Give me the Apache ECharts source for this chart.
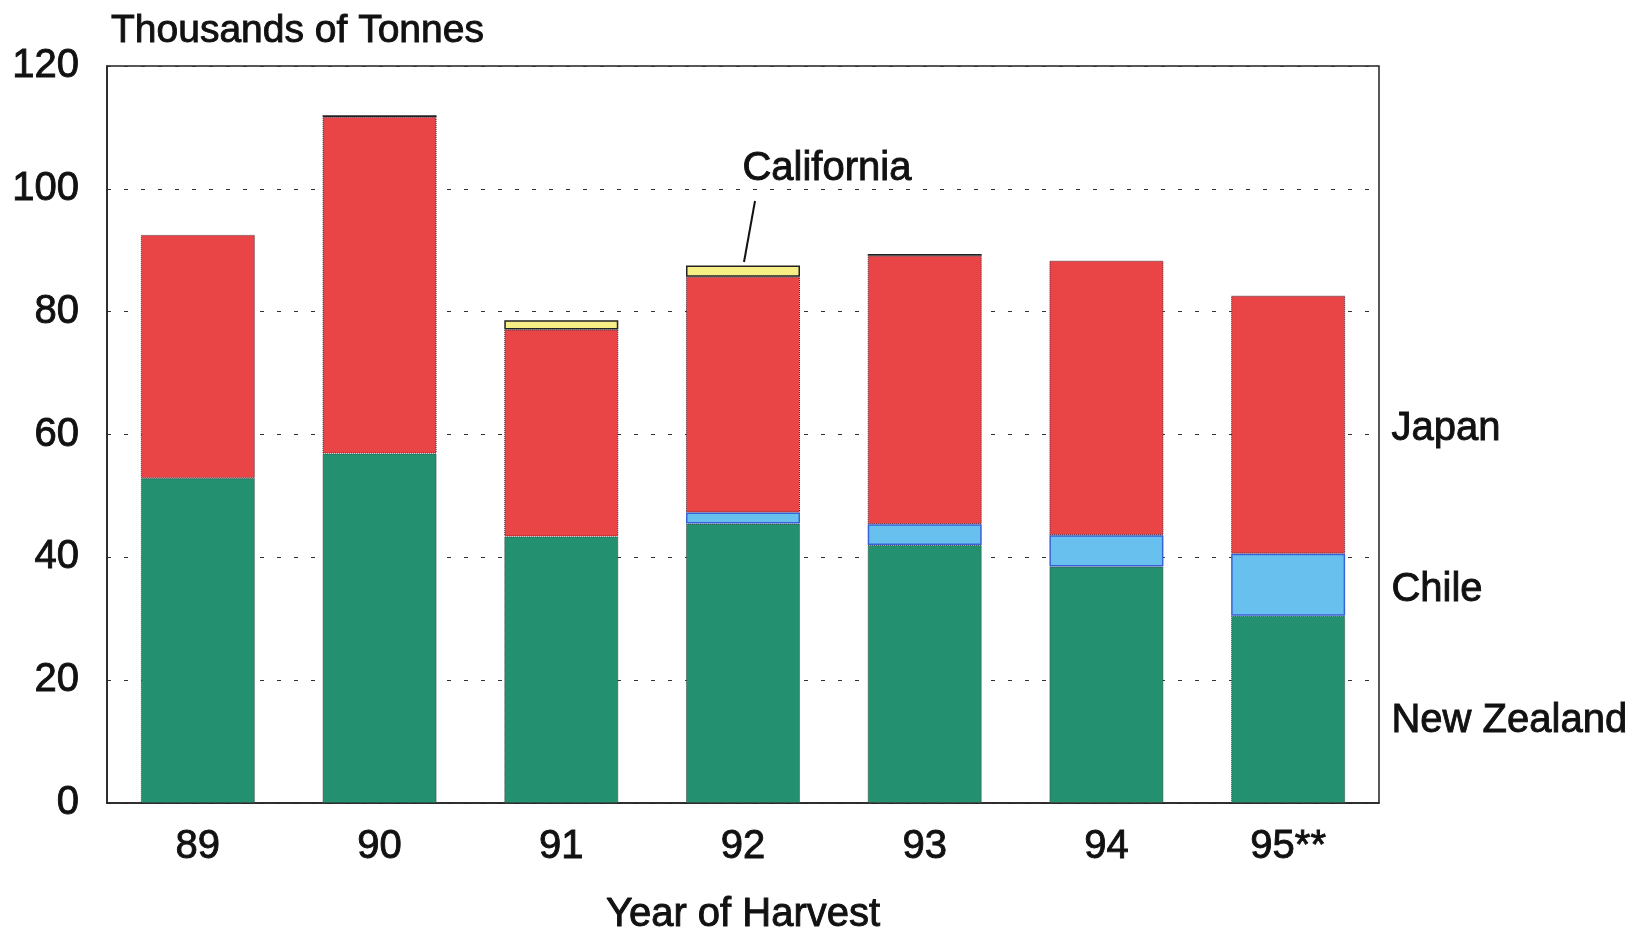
<!DOCTYPE html>
<html>
<head>
<meta charset="utf-8">
<style>
  html, body { margin: 0; padding: 0; background: #fff; }
  #chart { width: 1632px; height: 935px; }
</style>
<script src="https://cdn.jsdelivr.net/npm/echarts@6/dist/echarts.min.js"></script>
</head>
<body>
<div id="chart"></div>
<script>
// Harvest years and stacked production (thousands of tonnes)
const years = ['89', '90', '91', '92', '93', '94', '95**'];
const newZealand = [52.9, 56.9, 43.4, 45.5, 42.0, 38.5, 30.5];
const chile      = [null, null, null, 1.8, 3.4, 5.1, 10.1];
const japan      = [39.6, 54.8, 33.7, 38.4, 43.7, 44.7, 42.0];
const california = [null, 0.3, 1.5, 1.8, 0.3, null, null];
const yTicks = { min: 0, max: 120, step: 20 };

const FONT = '"Liberation Sans", Arial, Helvetica, sans-serif';
const INK = '#111';
// shared text look: a thin same-colour outline gives the heavier print weight
const textLook = { fontFamily: FONT, fontSize: 40, color: INK, textBorderColor: INK, textBorderWidth: 0.9 };

const chart = echarts.init(document.getElementById('chart'), null, { renderer: 'canvas' });

function stackSeries(name, data, fill, border, borderType, borderWidth) {
  return {
    name: name,
    type: 'bar',
    stack: 'total',
    barWidth: 114,
    data: data,
    itemStyle: {
      color: fill,
      borderColor: border,
      borderWidth: borderWidth,
      borderType: borderType
    },
    emphasis: { disabled: true }
  };
}

function sideLabel(text, left, top) {
  return {
    type: 'text', left: left, top: top,
    style: { text: text, font: '40px ' + FONT, fill: INK, stroke: INK, lineWidth: 0.9 }
  };
}

chart.setOption({
  animation: false,
  backgroundColor: '#ffffff',
  title: {
    text: 'Thousands of Tonnes',
    left: 106,
    top: 7,
    textStyle: Object.assign({}, textLook, { fontWeight: 'normal', fontSize: 39 })
  },
  grid: {
    left: 107, right: 253, top: 66, bottom: 132,
    outerBoundsMode: 'none',
    containLabel: false,
    show: true, borderColor: '#222', borderWidth: 1.5, backgroundColor: 'transparent'
  },
  xAxis: {
    type: 'category',
    data: years,
    axisLine: { show: true, lineStyle: { color: '#222', width: 1.5 } },
    axisTick: { show: false },
    axisLabel: Object.assign({}, textLook, { margin: 24 }),
    name: 'Year of Harvest',
    nameLocation: 'middle',
    nameGap: 92,
    nameTextStyle: textLook
  },
  yAxis: {
    type: 'value',
    min: yTicks.min,
    max: yTicks.max,
    interval: yTicks.step,
    axisLine: { show: true, lineStyle: { color: '#222', width: 1.5 } },
    axisTick: { show: false },
    axisLabel: Object.assign({}, textLook, { margin: 28 }),
    splitLine: { show: true, lineStyle: { color: '#333', width: 1.2, type: [4, 13] } }
  },
  series: [
    stackSeries('New Zealand', newZealand, '#23906f', '#3a4a40', 'dotted', 1),
    stackSeries('Chile', chile, '#68c0ee', '#3a62d8', 'solid', 1.5),
    stackSeries('Japan', japan, '#e94546', '#4a2a3a', 'dotted', 1),
    stackSeries('California', california, '#f7ef86', '#222', 'solid', 1.5)
  ],
  graphic: [
    sideLabel('Japan', 1391, 409),
    sideLabel('Chile', 1391, 570),
    sideLabel('New Zealand', 1391, 701),
    sideLabel('California', 742, 149),
    { type: 'line', shape: { x1: 755, y1: 201, x2: 744, y2: 262 },
      style: { stroke: INK, lineWidth: 2 } }
  ]
});
</script>
</body>
</html>
